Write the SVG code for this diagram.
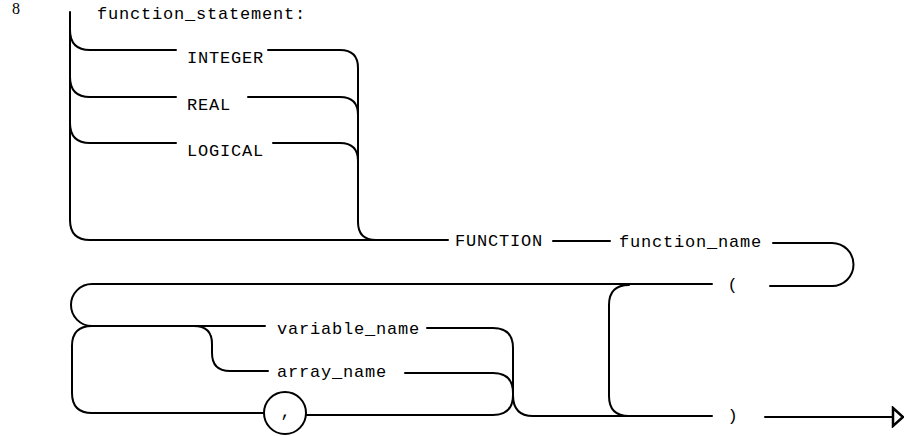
<svg xmlns="http://www.w3.org/2000/svg" width="904" height="436" viewBox="0 0 904 436">
<style>
.t{font-family:"Liberation Mono","DejaVu Sans Mono",monospace;font-size:17px;letter-spacing:0.8px;fill:#000}
.n{font-family:"Liberation Serif","DejaVu Serif",serif;font-size:16px;fill:#000}
.c path{fill:none;stroke:#000;stroke-width:2;stroke-linecap:round;stroke-linejoin:round}
.ring{fill:#fff;stroke:#000;stroke-width:2}
</style>
<defs>
<marker id="arr" viewBox="0 0 14 22" markerWidth="14" markerHeight="22" refX="2" refY="11" orient="auto" markerUnits="userSpaceOnUse">
<path d="M2,2 L12,11 L2,20 Z" fill="#fff" stroke="#000" stroke-width="2.5" stroke-linejoin="miter"/>
</marker>
</defs>
<rect width="904" height="436" fill="#fff"/>
<g id="connectors" class="c">
<path d="M70,12 L70,220 Q70,240 90,240 L448,240"/>
<path d="M70,30 Q70,50 90,50 L176,50"/>
<path d="M70,77 Q70,97 90,97 L176,97"/>
<path d="M70,123 Q70,143 90,143 L176,143"/>
<path d="M268,50 L340,50 Q358,50 358,68 L358,222 Q358,240 376,240"/>
<path d="M248,97 L340,97 Q358,97 358,115"/>
<path d="M273,143 L340,143 Q358,143 358,161"/>
<path d="M553,241 L610,241"/>
<path d="M773,243 L832,243 A21.5,21.5 0 0 1 832,286 L770,286"/>
<path d="M712,284 L92,284 A21,21 0 0 0 92,326 L265,326"/>
<path d="M92,326 Q72,326 72,346 L72,393 Q72,413 92,413 L264,413"/>
<path d="M194,326 Q212,326 212,344 L212,353 Q212,371 230,371 L268,371"/>
<path d="M427,328 L493,328 Q513,328 513,348 L513,395 Q513,416 533,416 L712,416"/>
<path d="M405,373 L493,373 Q513,373 513,393"/>
<path d="M306,415 L493,415 Q513,415 513,395"/>
<path d="M629,285 Q609,285 609,305 L609,396 Q609,416 629,416"/>
<path d="M765,417 L893,417" marker-end="url(#arr)"/>
</g>
<g id="number"><text class="n" x="12" y="14">8</text></g>
<g id="title"><text class="t" x="97" y="19">function_statement:</text></g>
<g id="integer"><text class="t" x="187" y="63">INTEGER</text></g>
<g id="real"><text class="t" x="187" y="110">REAL</text></g>
<g id="logical"><text class="t" x="187" y="156">LOGICAL</text></g>
<g id="function"><text class="t" x="455" y="246">FUNCTION</text></g>
<g id="function_name"><text class="t" x="619" y="247">function_name</text></g>
<g id="lparen"><text class="t" x="733" y="290" text-anchor="middle">(</text></g>
<g id="variable_name"><text class="t" x="277" y="334">variable_name</text></g>
<g id="array_name"><text class="t" x="277" y="377">array_name</text></g>
<g id="comma"><circle class="ring" cx="285" cy="413" r="21"/><text class="t" x="286" y="417" text-anchor="middle">,</text></g>
<g id="rparen"><text class="t" x="733" y="421" text-anchor="middle">)</text></g>
</svg>
